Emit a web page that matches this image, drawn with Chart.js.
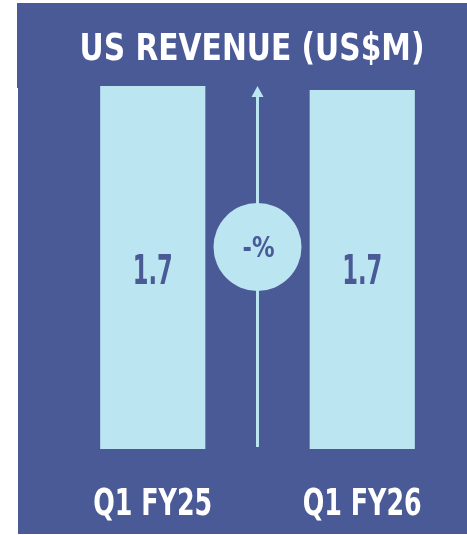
<!DOCTYPE html>
<html>
<head>
<meta charset="utf-8">
<script src="https://cdn.jsdelivr.net/npm/chart.js@4.4.0/dist/chart.umd.min.js"></script>
<style>
  html, body { margin: 0; padding: 0; background: #ffffff; }
  #wrap { position: relative; width: 467px; height: 535px; }
</style>
</head>
<body>
<div id="wrap"><canvas id="grafica"></canvas></div>
<script>
// datos
const periodos = ["Q1 FY25", "Q1 FY26"];
const ingresos = [1.72, 1.70];
const etiquetasValor = ["1.7", "1.7"];
const titulo = "US REVENUE (US$M)";
const cambio = "-%";

const FONDO = "#4a5a96";
const BARRA = "#bce5f2";
const FUENTE = "'DejaVu Sans Condensed', 'Liberation Sans Narrow', sans-serif";

// texto estrechado a un ancho dado (la fuente original es condensada)
function textoAjustado(ctx, texto, x, y, ancho) {
  const w = ctx.measureText(texto).width;
  const k = Math.min(1, ancho / w);
  ctx.save();
  ctx.translate(x, y);
  ctx.scale(k, 1);
  ctx.textAlign = "center";
  ctx.textBaseline = "alphabetic";
  ctx.fillText(texto, 0, 0);
  ctx.restore();
}

const decoracion = {
  id: "decoracion",
  beforeDraw(chart) {
    const ctx = chart.ctx;
    ctx.save();
    ctx.fillStyle = FONDO;
    ctx.fillRect(17, 3, 450, 85);
    ctx.fillRect(18, 88, 449, 446);
    ctx.fillStyle = "#ffffff";
    ctx.font = "bold 37px " + FUENTE;
    textoAjustado(ctx, titulo, 252, 60, 345);

    // flecha entre barras
    const x = chart.scales.x.getPixelForValue(0.5);
    ctx.strokeStyle = BARRA;
    ctx.fillStyle = BARRA;
    ctx.lineWidth = 3;
    ctx.beginPath();
    ctx.moveTo(x, 95);
    ctx.lineTo(x, 447);
    ctx.stroke();
    ctx.beginPath();
    ctx.moveTo(x, 86);
    ctx.lineTo(x - 6, 97);
    ctx.lineTo(x + 6, 97);
    ctx.closePath();
    ctx.fill();

    // etiquetas del eje x
    ctx.fillStyle = "#ffffff";
    ctx.font = "bold 37px " + FUENTE;
    periodos.forEach((p, i) => {
      textoAjustado(ctx, p, chart.scales.x.getPixelForValue(i), 515, 119);
    });
    ctx.restore();
  },
  afterDatasetsDraw(chart) {
    const ctx = chart.ctx;
    const x = chart.scales.x.getPixelForValue(0.5);
    ctx.save();
    ctx.fillStyle = BARRA;
    ctx.beginPath();
    ctx.arc(x, 247, 44, 0, Math.PI * 2);
    ctx.fill();
    ctx.fillStyle = FONDO;
    ctx.font = "bold 29px " + FUENTE;
    textoAjustado(ctx, cambio, x + 1, 257, 32);

    // valores dentro de las barras
    ctx.font = "bold 40px " + FUENTE;
    chart.getDatasetMeta(0).data.forEach((bar, i) => {
      textoAjustado(ctx, etiquetasValor[i], bar.x, 284, 40);
    });
    ctx.restore();
  }
};

new Chart(document.getElementById("grafica"), {
  type: "bar",
  data: {
    labels: periodos,
    datasets: [{
      data: ingresos,
      backgroundColor: BARRA,
      borderWidth: 0,
      categoryPercentage: 1,
      barPercentage: 0.502
    }]
  },
  options: {
    responsive: true,
    maintainAspectRatio: false,
    animation: false,
    layout: { padding: { left: 48, right: 0, top: 69, bottom: 86 } },
    plugins: {
      legend: { display: false },
      title: { display: false },
      tooltip: { enabled: false }
    },
    scales: {
      x: {
        grid: { display: false, drawTicks: false },
        border: { display: false },
        ticks: { display: false }
      },
      y: {
        display: false,
        min: 0,
        max: 1.8
      }
    }
  },
  plugins: [decoracion]
});
</script>
</body>
</html>
